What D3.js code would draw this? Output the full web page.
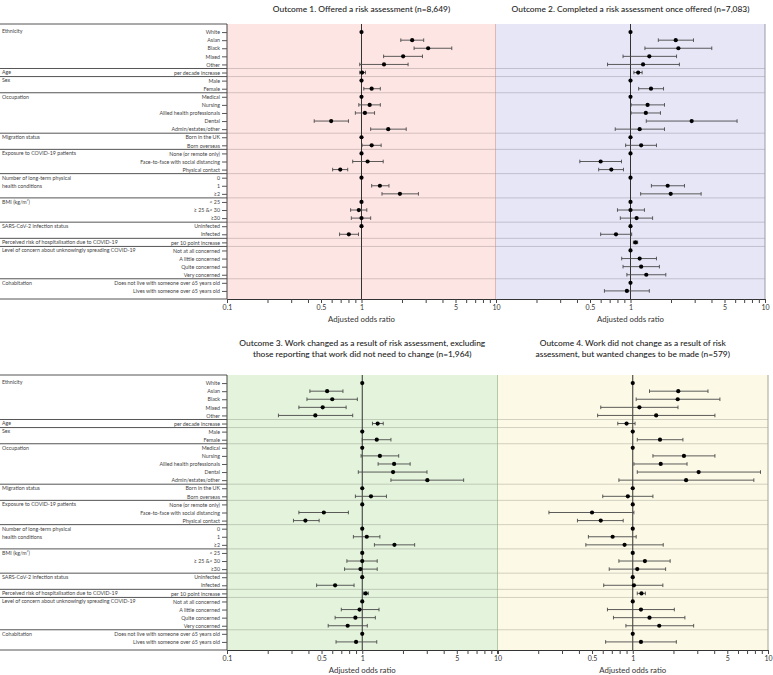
<!DOCTYPE html>
<html>
<head>
<meta charset="utf-8">
<script src="https://cdn.jsdelivr.net/npm/d3@7"></script>
<style>
body { margin: 0; background: #fff; }
text { font-family: Lato, "Noto Sans", sans-serif; }
</style>
</head>
<body>
<svg id="chart" width="773" height="675"></svg>
<script>
var rowLabels = ["White", "Asian", "Black", "Mixed", "Other",
  "per decade increase", "Male", "Female",
  "Medical", "Nursing", "Allied health professionals", "Dental", "Admin/estates/other",
  "Born in the UK", "Born overseas",
  "None (or remote only)", "Face-to-face with social distancing", "Physical contact",
  "0", "1", "\u22652",
  "< 25", "\u2265 25 &< 30", "\u226530",
  "Uninfected", "Infected", "per 10 point increase",
  "Not at all concerned", "A little concerned", "Quite concerned", "Very concerned",
  "Does not live with someone over 65 years old", "Lives with someone over 65 years old"];

var groupNames = [["Ethnicity"], ["Age"], ["Sex"], ["Occupation"], ["Migration status"],
  ["Exposure to COVID-19 patients"], ["Number of long-term physical", "health conditions"],
  ["BMI (kg/m\u00b2)"], ["SARS-CoV-2 infection status"],
  ["Perceived risk of hospitalisation due to COVID-19"],
  ["Level of concern about unknowingly spreading COVID-19"], ["Cohabitation"]];
var groupSizes = [5, 1, 2, 5, 2, 3, 3, 3, 2, 1, 4, 2];

var titles = [["Outcome 1. Offered a risk assessment (n=8,649)"],
  ["Outcome 2. Completed a risk assessment once offered (n=7,083)"],
  ["Outcome 3. Work changed as a result of risk assessment, excluding", "those reporting that work did not need to change (n=1,964)"],
  ["Outcome 4. Work did not change as a result of risk", "assessment, but wanted changes to be made (n=579)"]];

// odds ratios and 95% CI (null = not shown / reference)
var or1 = [1, 2.38, 3.13, 2.04, 1.47, 1.01, 1, 1.19, 1, 1.15, 1.06, 0.595, 1.58, 1, 1.19, 1, 1.11, 0.695, 1, 1.37, 1.93, 1, 0.955, 1.0, 1, 0.805, null, null, null, null, null, null, null];
var lo1 = [null, 1.96, 2.46, 1.46, 0.97, 0.97, null, 1.04, null, 0.955, 0.90, 0.445, 1.17, null, 1.01, null, 0.86, 0.61, null, 1.19, 1.42, null, 0.83, 0.84, null, 0.687, null, null, null, null, null, null, null];
var hi1 = [null, 2.90, 4.69, 2.84, 2.22, 1.07, null, 1.38, null, 1.38, 1.25, 0.80, 2.15, null, 1.40, null, 1.45, 0.79, null, 1.60, 2.65, null, 1.095, 1.17, null, 0.95, null, null, null, null, null, null, null];

var or2 = [1, 2.17, 2.27, 1.38, 1.24, 1.14, 1, 1.42, 1, 1.34, 1.30, 2.85, 1.17, 1, 1.20, 1, 0.60, 0.72, 1, 1.89, 1.99, 1, 1.0, 1.11, 1, 0.78, 1.09, 1, 1.17, 1.20, 1.31, 1, 0.94];
var lo2 = [null, 1.61, 1.28, 0.88, 0.675, 1.06, null, 1.15, null, 1.01, 1.01, 1.31, 0.77, null, 0.92, null, 0.42, 0.58, null, 1.43, 1.19, null, 0.80, 0.84, null, 0.60, 1.05, null, 0.86, 0.88, 0.94, null, 0.64];
var hi2 = [null, 2.94, 4.02, 2.20, 2.31, 1.22, null, 1.76, null, 1.79, 1.67, 6.20, 1.79, null, 1.56, null, 0.857, 0.887, null, 2.52, 3.35, null, 1.27, 1.46, null, 1.02, 1.13, null, 1.56, 1.64, 1.83, null, 1.38];

var or3 = [1, 0.55, 0.60, 0.51, 0.45, 1.30, 1, 1.28, 1, 1.35, 1.72, 1.69, 3.03, 1, 1.16, 1, 0.52, 0.38, 1, 1.08, 1.73, 1, 1.0, 0.97, 1, 0.63, 1.06, 1, 0.955, 0.89, 0.78, 1, 0.90];
var lo3 = [null, 0.41, 0.39, 0.34, 0.24, 1.19, null, 1.0, null, 0.98, 1.31, 0.935, 1.63, null, 0.89, null, 0.34, 0.31, null, 0.86, 1.23, null, 0.77, 0.74, null, 0.46, 1.02, null, 0.70, 0.63, 0.56, null, 0.64];
var hi3 = [null, 0.72, 0.92, 0.76, 0.85, 1.43, null, 1.63, null, 1.86, 2.26, 3.01, 5.62, null, 1.51, null, 0.79, 0.48, null, 1.35, 2.44, null, 1.29, 1.29, null, 0.87, 1.11, null, 1.33, 1.25, 1.09, null, 1.28];

var or4 = [1, 2.17, 2.15, 1.12, 1.49, 0.90, 1, 1.59, 1, 2.39, 1.61, 3.07, 2.48, 1, 0.92, 1, 0.50, 0.58, 1, 0.71, 0.87, 1, 1.23, 1.08, 1, 1.02, 1.16, 1, 1.15, 1.33, 1.57, 1, 1.15];
var lo4 = [null, 1.33, 1.06, 0.58, 0.55, 0.775, null, 1.08, null, 1.41, 1.02, 1.08, 0.79, null, 0.60, null, 0.24, 0.39, null, 0.47, 0.45, null, 0.79, 0.67, null, 0.61, 1.08, null, 0.65, 0.72, 0.89, null, 0.63];
var hi4 = [null, 3.60, 4.41, 2.16, 4.05, 1.04, null, 2.35, null, 4.05, 2.52, 8.8, 7.86, null, 1.41, null, 1.02, 0.85, null, 1.06, 1.68, null, 1.89, 1.75, null, 1.67, 1.24, null, 2.03, 2.43, 2.82, null, 2.10];

var tickVals = [0.1, 0.2, 0.3, 0.4, 0.5, 0.6, 0.7, 0.8, 0.9, 1, 2, 3, 4, 5, 6, 7, 8, 9, 10];
var tickShownLeft = [0.1, 0.5, 1, 5, 10];
var tickShownRight = [0.5, 1, 5, 10];

var svg = d3.select("#chart");
var rowIdx = d3.range(rowLabels.length);

function drawBlock(top, height, panels) {
  var y = d3.scalePoint().domain(rowIdx).range([top, top + height]).padding(1);
  var step = y.step();
  var bottom = top + height;
  var left = panels[0].x0;

  // group boundaries
  var starts = [], bounds = [], acc = 0;
  groupSizes.forEach(function(n) {
    starts.push(acc);
    acc += n;
    if (acc < rowLabels.length) bounds.push(y(acc - 1) + step / 2);
  });

  // panels
  panels.forEach(function(p, pi) {
    var x = d3.scaleLog().domain([0.1, 10]).range([p.x0, p.x1]);
    var shown = pi === 0 ? tickShownLeft : tickShownRight;
    var g = svg.append("g");
    g.append("rect")
      .attr("x", p.x0).attr("y", top)
      .attr("width", p.x1 - p.x0).attr("height", height)
      .attr("fill", p.bg);

    g.selectAll("line.sep").data(bounds).enter().append("line")
      .attr("x1", p.x0).attr("x2", p.x1)
      .attr("y1", d => d).attr("y2", d => d)
      .attr("stroke", "rgba(0,0,0,0.17)").attr("stroke-width", 1);

    g.append("line")
      .attr("x1", p.x1).attr("x2", p.x1)
      .attr("y1", top).attr("y2", bottom)
      .attr("stroke", p.edge).attr("stroke-width", 1);

    g.append("line")
      .attr("x1", x(1)).attr("x2", x(1))
      .attr("y1", top).attr("y2", bottom)
      .attr("stroke", "#333").attr("stroke-width", 1);

    var rows = rowIdx.filter(i => p.or[i] != null);
    var ci = rows.filter(i => p.lo[i] != null);

    var bars = g.selectAll("g.ci").data(ci).enter().append("g")
      .attr("stroke", "#4a4a4a").attr("stroke-width", 0.9);
    bars.append("line")
      .attr("x1", i => x(p.lo[i])).attr("x2", i => x(p.hi[i]))
      .attr("y1", i => y(i)).attr("y2", i => y(i));
    bars.append("line")
      .attr("x1", i => x(p.lo[i])).attr("x2", i => x(p.lo[i]))
      .attr("y1", i => y(i) - 1.8).attr("y2", i => y(i) + 1.8);
    bars.append("line")
      .attr("x1", i => x(p.hi[i])).attr("x2", i => x(p.hi[i]))
      .attr("y1", i => y(i) - 1.8).attr("y2", i => y(i) + 1.8);

    g.selectAll("circle").data(rows).enter().append("circle")
      .attr("cx", i => x(p.or[i])).attr("cy", i => y(i))
      .attr("r", 2.1).attr("fill", "#000");

    var xAxis = d3.axisBottom(x).tickValues(tickVals).tickSizeOuter(0).tickSize(4)
      .tickFormat(d => shown.indexOf(d) >= 0 ? String(d) : "");
    var ax = g.append("g").attr("transform", "translate(0," + bottom + ")").call(xAxis);
    ax.select(".domain").attr("stroke", "#333");
    ax.selectAll(".tick line").attr("stroke", "#444");
    ax.selectAll(".tick text").attr("font-size", 7).attr("fill", "#333").attr("dy", "0.6em")
      .attr("font-family", "Lato, sans-serif");

    g.append("text")
      .attr("x", x(1)).attr("y", bottom + 23)
      .attr("text-anchor", "middle").attr("font-size", 7.8).attr("fill", "#333")
      .text("Adjusted odds ratio");

    var tl = p.title;
    g.selectAll("text.title").data(tl).enter().append("text")
      .attr("x", (p.x0 + p.x1) / 2)
      .attr("y", (d, k) => top - (tl.length === 1 ? 12.5 : 29) + k * 10.5)
      .attr("text-anchor", "middle").attr("font-size", 8.4).attr("fill", "#222")
      .attr("font-weight", 500)
      .text(d => d);
  });

  // left label area
  var lab = svg.append("g");
  var lines = [top].concat(bounds);
  lab.selectAll("line.grp").data(lines).enter().append("line")
    .attr("x1", 0).attr("x2", left)
    .attr("y1", d => d).attr("y2", d => d)
    .attr("stroke", "#555").attr("stroke-width", 1);

  var yAxis = d3.axisLeft(y).tickSize(5).tickPadding(2).tickFormat(i => rowLabels[i]);
  var ya = lab.append("g").attr("transform", "translate(" + left + ",0)").call(yAxis);
  ya.select(".domain").attr("stroke", "#444").attr("d", "M0," + top + "V" + bottom);
  ya.selectAll(".tick line").attr("stroke", "#555");
  ya.selectAll(".tick text").attr("font-size", 5.3).attr("fill", "#444")
    .attr("font-family", "Lato, sans-serif");

  groupNames.forEach(function(name, gi) {
    name.forEach(function(t, k) {
      lab.append("text")
        .attr("x", 2).attr("y", y(starts[gi] + k) + (gi === 0 ? -1 : 0))
        .attr("dy", "0.35em")
        .attr("font-size", 5.3).attr("fill", "#444")
        .text(t);
    });
  });

  lab.append("line")
    .attr("x1", 0).attr("x2", left)
    .attr("y1", bottom).attr("y2", bottom)
    .attr("stroke", "#555").attr("stroke-width", 1);
}

drawBlock(24, 275, [
  {x0: 227, x1: 496, bg: "#fde5e3", edge: "#b98c88", or: or1, lo: lo1, hi: hi1, title: titles[0]},
  {x0: 496, x1: 765, bg: "#e6e6f7", edge: "#9a9aa8", or: or2, lo: lo2, hi: hi2, title: titles[1]}
]);
drawBlock(375, 275, [
  {x0: 227, x1: 497.5, bg: "#e4f3dc", edge: "#6f9a63", or: or3, lo: lo3, hi: hi3, title: titles[2]},
  {x0: 497.5, x1: 768, bg: "#fcf9e6", edge: "#a8a690", or: or4, lo: lo4, hi: hi4, title: titles[3]}
]);
</script>
</body>
</html>
